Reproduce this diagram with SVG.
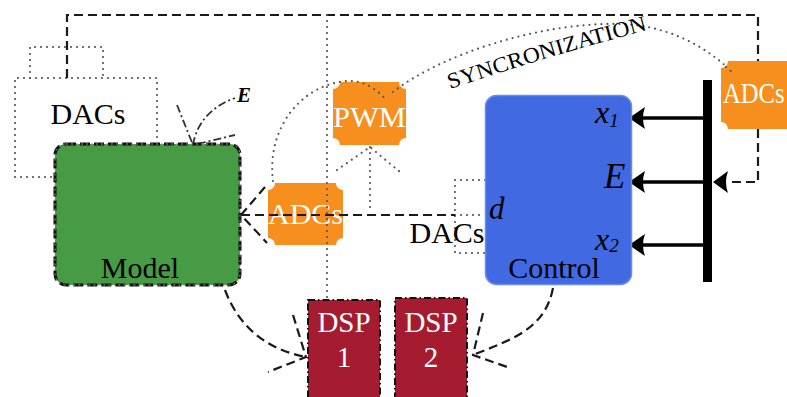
<svg xmlns="http://www.w3.org/2000/svg" width="787" height="397" viewBox="0 0 787 397">
<defs>
<style>
.t{font-family:"Liberation Serif","DejaVu Serif",serif;font-size:30px;fill:#000}
.w{fill:#fff}
.m{font-style:italic}
.dot{fill:none;stroke:#555;stroke-width:2.2;stroke-dasharray:0 6;stroke-linecap:round}
.dash{fill:none;stroke:#1a1a1a;stroke-width:2.2;stroke-dasharray:9 5}
.dd{fill:none;stroke:#333;stroke-width:1.8;stroke-dasharray:8 3 2 3}
.org{fill:#F78F1E}
.bus{fill:none;stroke:#000;stroke-width:3.5}
.head{fill:#000}
</style>
</defs>
<rect width="787" height="397" fill="#fff"/>

<g id="dacs-left">
<path class="dot" d="M30,78 V47 H103 V78"/>
<path class="dot" d="M57,177 H15 V78 H157 V143"/>
<text class="t" x="88" y="124" text-anchor="middle">DACs</text>
</g>

<g id="dacs-right">
<path class="dot" d="M485,180 H455 V253 H485 M455,215 H485"/>
<text class="t" x="447" y="243" text-anchor="middle">DACs</text>
</g>

<g id="adcs-left">
<path class="org" d="M275,183 H336 A7,7 0 0 0 343,190 V238 A7,7 0 0 0 336,245 H275 A7,7 0 0 0 268,238 V190 A7,7 0 0 0 275,183 Z"/>
<text class="t w" x="305.5" y="224" text-anchor="middle" textLength="75" lengthAdjust="spacingAndGlyphs">ADCs</text>
</g>

<g id="pwm">
<path class="org" d="M340,82 H399 A7,7 0 0 0 406,89 V138 A7,7 0 0 0 399,145 H340 A7,7 0 0 0 333,138 V89 A7,7 0 0 0 340,82 Z"/>
<text class="t w" x="369.5" y="127" text-anchor="middle" textLength="73" lengthAdjust="spacingAndGlyphs">PWM</text>
</g>

<g id="connectors">
<path class="dash" d="M67,78 V15 H758 V182 H727"/>
<path class="head" d="M713,182 L728,171 Q724,182 728,193 Z"/>
<path class="dot" d="M327,15 V298"/>
<path class="dash" d="M241,215 H455"/>
<path class="dash" d="M265,187 L241,215 L267,243"/>
<path class="dot" d="M370,147 V213"/>
<path class="dot" d="M337,170 L370,147 L400,172"/>
<path class="dot" d="M273,181 C266,125 305,82 350,81 C365,81 378,90 387,101"/>
<path id="sync" class="dot" d="M393,92 C440,55 540,22 620,24 C665,25 705,45 732,72"/>
<path class="dash" d="M225,290 C240,330 270,350 306,357"/>
<path class="dash" d="M293,315 L306,357 L268,372"/>
<path class="dash" d="M553,288 C545,330 510,340 473,355"/>
<path class="dash" d="M483,313 L473,355 L510,368"/>
<path class="dd" d="M193,145 C197,120 215,105 235,98"/>
<path class="dd" d="M177,105 L193,145 L235,135"/>
<rect x="703" y="80" width="9" height="202" fill="#000"/>
<path class="bus" d="M703,118 H642"/>
<path class="head" d="M629,118 L645,107 Q641,118 645,129 Z"/>
<path class="bus" d="M703,182 H642"/>
<path class="head" d="M629,182 L645,171 Q641,182 645,193 Z"/>
<path class="bus" d="M703,245 H642"/>
<path class="head" d="M629,245 L645,234 Q641,245 645,256 Z"/>
</g>

<path id="syncText" d="M450,89 Q560,52 656,28" fill="none"/>
<text class="t" style="font-size:22px"><textPath href="#syncText" textLength="206" lengthAdjust="spacingAndGlyphs">SYNCRONIZATION</textPath></text>

<g id="model">
<rect x="55" y="144" width="185" height="141" rx="11" fill="#489B45"/>
<rect x="55" y="144" width="185" height="141" rx="11" fill="none" stroke="#111" stroke-width="3" stroke-dasharray="10 4"/>
<rect x="55" y="144" width="185" height="141" rx="11" fill="none" stroke="#999" stroke-width="1" stroke-dasharray="2 3"/>
<text class="t" x="140" y="278" text-anchor="middle">Model</text>
<text class="t m" x="237" y="102" style="font-size:21px;font-weight:bold">E</text>
</g>

<g id="control">
<rect x="485.5" y="95.5" width="146" height="189" rx="11" fill="#4169E1" stroke="#6a8cf0" stroke-width="1.5"/>
<text class="t" x="554" y="278" text-anchor="middle">Control</text>
<text class="t m" x="595" y="123" style="font-size:32px">x<tspan style="font-size:19px" dy="4">1</tspan></text>
<text class="t m" x="604" y="188" style="font-size:35px">E</text>
<text class="t m" x="595" y="250" style="font-size:32px">x<tspan style="font-size:19px" dy="2">2</tspan></text>
<text class="t m" x="489" y="219" style="font-size:31px">d</text>
</g>

<g id="dsp1">
<rect x="308" y="300" width="72" height="100" fill="#A51C30" stroke="#111" stroke-width="2" stroke-dasharray="7 3 1.5 3"/>
<text class="t w" x="344" y="332" text-anchor="middle" style="font-size:29px">DSP</text>
<text class="t w" x="344" y="367" text-anchor="middle" style="font-size:29px">1</text>
</g>

<g id="dsp2">
<rect x="395" y="298" width="72" height="102" fill="#A51C30" stroke="#111" stroke-width="2" stroke-dasharray="7 3 1.5 3"/>
<text class="t w" x="431" y="332" text-anchor="middle" style="font-size:29px">DSP</text>
<text class="t w" x="431" y="367" text-anchor="middle" style="font-size:29px">2</text>
</g>

<g id="adcs-right">
<path class="org" d="M728,61 H800 V129 H728 A7,7 0 0 0 721,122 V68 A7,7 0 0 0 728,61 Z"/>
<path class="dot" d="M726,67 L732,72"/>
<text class="t w" transform="translate(723,103) scale(0.82,1)" x="0" y="0">ADCs</text>
</g>
</svg>
